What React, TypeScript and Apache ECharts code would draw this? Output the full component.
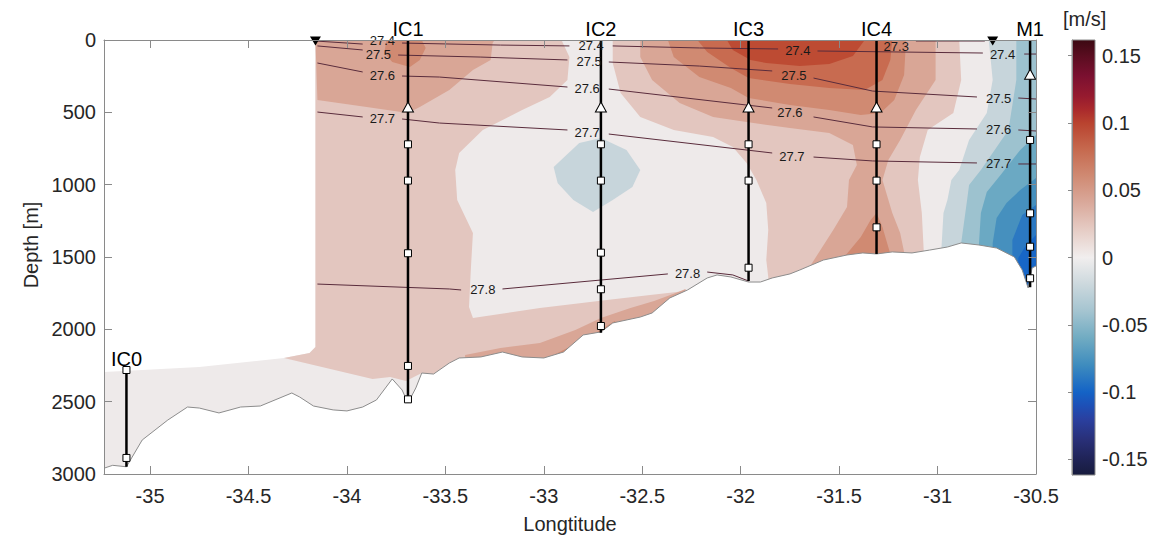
import React, { useEffect, useRef } from "react";
import * as echarts from "echarts";

// ---------- axes ----------
const LON_MIN = -35.234;
const LON_MAX = -30.5;
const DEPTH_MIN = 0;
const DEPTH_MAX = 3000;
const lonTicks = [-35, -34.5, -34, -33.5, -33, -32.5, -32, -31.5, -31, -30.5];
const CB_MIN = -0.1617;
const CB_MAX = 0.1617;
const cbTicks = [-0.15, -0.1, -0.05, 0, 0.05, 0.1, 0.15];

// colour bar (value -> colour)
const cbValues = [0.1617, 0.15, 0.135, 0.12, 0.11, 0.1, 0.08, 0.06, 0.04, 0.02, 0, -0.02, -0.04, -0.06, -0.08, -0.1, -0.11, -0.12, -0.135, -0.15, -0.1617];
const cbColors = ["#3c0912", "#5a0d20", "#7b1030", "#961a2f", "#aa2a2c", "#b9432f", "#c66a4f", "#d08b74", "#daaa9c", "#e6cdc6", "#f1eeee", "#ccd8dd", "#a4c4d0", "#70abc2", "#3e8cbe", "#1463c6", "#1d50b7", "#2a40a0", "#293079", "#1f2356", "#171b3d"];

// filled contour band colours
const bandColor = {
  W: "#eeeaea",
  P1: "#e3c6bf",
  P2: "#d9a696",
  P3: "#d08a72",
  P4: "#c86b50",
  P5: "#bd4b33",
  N1: "#c7d5db",
  N2: "#9dc2cf",
  N3: "#6ba9c3",
  N4: "#4690be",
  N5: "#2b78c2",
  N6: "#1766c7",
};

// ---------- filled contour regions [lon, depth] ----------
const wBase = [[-34.16, 0], [-30.5, 0], [-30.5, 3000], [-35.234, 3000], [-35.234, 2295], [-34.75, 2260], [-34.32, 2198], [-34.19, 2163], [-34.16, 2122]];
const p1West = [[-34.16, 0], [-32.91, 0], [-32.87, 118], [-32.88, 276], [-32.97, 394], [-33.11, 484], [-33.31, 622], [-33.43, 781], [-33.45, 899], [-33.44, 1106], [-33.36, 1334], [-33.37, 1569], [-33.38, 1846], [-33.36, 1922], [-33.02, 1852], [-32.68, 1797], [-32.46, 1763], [-32.28, 1735], [-32.26, 2488], [-33.58, 2488], [-33.62, 2302], [-33.70, 2357], [-33.78, 2329], [-33.87, 2343], [-34.32, 2198], [-34.19, 2163], [-34.16, 2122]];
const p1East = [[-32.65, 0], [-32.65, 159], [-32.61, 366], [-32.51, 532], [-32.34, 622], [-32.14, 670], [-32.04, 740], [-31.97, 850], [-31.92, 968], [-31.87, 1127], [-31.86, 1313], [-31.87, 1521], [-31.86, 1638], [-31.85, 2004], [-31.06, 2004], [-31.07, 1465], [-31.08, 1196], [-31.10, 968], [-31.09, 809], [-31.05, 622], [-30.92, 505], [-30.88, 276], [-30.89, 0]];
const p2NorthWest = [[-34.16, 0], [-33.25, 0], [-33.26, 21], [-33.27, 138], [-33.36, 207], [-33.48, 346], [-33.63, 463], [-33.69, 505], [-33.90, 463], [-34.15, 415]];
const p2Bottom = [[-33.40, 2177], [-33.22, 2129], [-33.02, 2094], [-32.84, 2004], [-32.71, 1922], [-32.56, 1852], [-32.44, 1804], [-32.33, 1749], [-32.28, 1721], [-32.28, 2488], [-33.40, 2488]];
const p2East = [[-32.51, 0], [-32.51, 118], [-32.45, 276], [-32.31, 435], [-32.14, 532], [-31.97, 567], [-31.75, 608], [-31.55, 643], [-31.43, 726], [-31.41, 864], [-31.45, 968], [-31.46, 1154], [-31.53, 1313], [-31.66, 1590], [-31.67, 2004], [-31.14, 2004], [-31.17, 1465], [-31.19, 1334], [-31.23, 1196], [-31.28, 968], [-31.25, 829], [-31.19, 691], [-31.11, 484], [-31.01, 276], [-31.01, 0]];
const p3Ic1 = [[-33.80, 0], [-33.81, 90], [-33.77, 152], [-33.68, 187], [-33.63, 138], [-33.60, 55], [-33.62, 0]];
const p3Ic2 = [[-32.97, 2191], [-32.84, 2101], [-32.72, 2011], [-32.64, 1942], [-32.61, 2004], [-32.72, 2108], [-32.87, 2212]];
const p3East = [[-32.37, 0], [-32.34, 118], [-32.21, 256], [-32.05, 332], [-31.96, 401], [-31.75, 449], [-31.55, 484], [-31.39, 518], [-31.29, 505], [-31.22, 415], [-31.17, 242], [-31.16, 0]];
const p3Ic4 = [[-31.47, 1493], [-31.39, 1362], [-31.34, 1244], [-31.31, 1196], [-31.28, 1293], [-31.24, 1479], [-31.24, 1797], [-31.47, 1797]];
const p4East = [[-32.22, 0], [-32.17, 83], [-32.05, 194], [-31.96, 263], [-31.75, 304], [-31.55, 332], [-31.37, 346], [-31.28, 276], [-31.24, 138], [-31.23, 0]];
const p5East = [[-32.07, 0], [-32.04, 69], [-31.95, 138], [-31.87, 159], [-31.70, 180], [-31.55, 166], [-31.43, 111], [-31.37, 0]];
const n1Ic2 = [[-32.95, 878], [-32.82, 712], [-32.71, 677], [-32.58, 760], [-32.51, 899], [-32.55, 1016], [-32.65, 1106], [-32.75, 1189], [-32.85, 1106], [-32.93, 988]];
const n1East = [[-30.74, 0], [-30.72, 276], [-30.75, 505], [-30.84, 691], [-30.89, 899], [-30.93, 968], [-30.95, 1106], [-30.97, 1196], [-30.98, 1431], [-30.98, 1797], [-30.5, 1797], [-30.5, 0]];
const n2East = [[-30.60, 0], [-30.60, 276], [-30.64, 622], [-30.71, 760], [-30.78, 899], [-30.84, 1002], [-30.85, 1106], [-30.88, 1403], [-30.88, 1797], [-30.5, 1797], [-30.5, 0]];
const n3East = [[-30.5, 657], [-30.58, 760], [-30.68, 933], [-30.75, 1050], [-30.78, 1196], [-30.79, 1417], [-30.79, 1797], [-30.5, 1797]];
const n4East = [[-30.5, 954], [-30.58, 1037], [-30.65, 1127], [-30.70, 1230], [-30.72, 1403], [-30.72, 1797], [-30.5, 1797]];
const n5East = [[-30.5, 1140], [-30.57, 1210], [-30.62, 1382], [-30.62, 1521], [-30.62, 1797], [-30.5, 1797]];
const n6East = [[-30.5, 1348], [-30.55, 1417], [-30.59, 1507], [-30.59, 1797], [-30.5, 1797]];

// ---------- bathymetry [lon, depth] ----------
const bathymetry = [[-35.234, 2960], [-35.19, 2940], [-35.12, 2950], [-35.04, 2765], [-34.91, 2627], [-34.81, 2537], [-34.75, 2544], [-34.65, 2578], [-34.54, 2537], [-34.44, 2530], [-34.28, 2440], [-34.24, 2468], [-34.17, 2530], [-34.07, 2557], [-34.0, 2564], [-33.92, 2537], [-33.85, 2488], [-33.77, 2343], [-33.72, 2419], [-33.69, 2509], [-33.65, 2405], [-33.62, 2302], [-33.56, 2309], [-33.48, 2233], [-33.43, 2198], [-33.32, 2191], [-33.21, 2157], [-33.11, 2191], [-33.0, 2198], [-32.9, 2157], [-32.8, 2039], [-32.71, 2018], [-32.65, 1956], [-32.51, 1915], [-32.45, 1887], [-32.36, 1783], [-32.27, 1728], [-32.17, 1645], [-32.12, 1624], [-32.05, 1638], [-31.96, 1673], [-31.9, 1673], [-31.84, 1645], [-31.75, 1617], [-31.7, 1590], [-31.58, 1521], [-31.46, 1486], [-31.38, 1472], [-31.31, 1479], [-31.23, 1465], [-31.13, 1472], [-31.04, 1452], [-30.95, 1431], [-30.88, 1403], [-30.79, 1417], [-30.7, 1438], [-30.61, 1500], [-30.57, 1590], [-30.54, 1714], [-30.52, 1576], [-30.5, 1562]];

// ---------- potential density contours ----------
const sigmaSegments = [
  [[-31.11, 7], [-30.76, 7]],
  [[-34.16, 7], [-33.92, 28]],
  [[-33.72, 21], [-33.22, 35], [-32.87, 41]],
  [[-32.65, 41], [-32.21, 55], [-31.81, 62]],
  [[-31.61, 76], [-31.19, 83], [-30.77, 90]],
  [[-30.56, 97], [-30.5, 97]],
  [[-34.15, 41], [-33.92, 69]],
  [[-33.74, 104], [-33.32, 118], [-32.88, 138]],
  [[-32.67, 152], [-32.21, 180], [-31.84, 214]],
  [[-31.63, 263], [-31.33, 353], [-30.8, 394]],
  [[-30.59, 401], [-30.5, 408]],
  [[-34.15, 159], [-33.92, 221]],
  [[-33.72, 249], [-33.53, 256], [-32.88, 325]],
  [[-32.67, 339], [-31.84, 470]],
  [[-31.63, 532], [-31.33, 601], [-30.8, 615]],
  [[-30.59, 622], [-30.5, 629]],
  [[-34.15, 498], [-33.92, 532]],
  [[-33.72, 546], [-33.53, 574], [-32.88, 622]],
  [[-32.67, 650], [-31.84, 781]],
  [[-31.63, 809], [-31.33, 836], [-30.8, 850]],
  [[-30.59, 857], [-30.5, 857]],
  [[-34.15, 1687], [-33.48, 1721], [-33.42, 1728]],
  [[-33.21, 1721], [-32.37, 1617]],
  [[-32.17, 1604], [-32.04, 1624], [-31.96, 1666]],
];
const sigmaLabels = [
  [-31.21, 48, "27.3"],
  [-33.82, 3, "27.4"], [-32.76, 41, "27.4"], [-31.71, 76, "27.4"], [-30.67, 97, "27.4"],
  [-33.84, 100, "27.5"], [-32.77, 152, "27.5"], [-31.73, 242, "27.5"], [-30.69, 401, "27.5"],
  [-33.82, 242, "27.6"], [-32.78, 332, "27.6"], [-31.75, 498, "27.6"], [-30.69, 622, "27.6"],
  [-33.82, 546, "27.7"], [-32.78, 636, "27.7"], [-31.74, 802, "27.7"], [-30.69, 857, "27.7"],
  [-33.31, 1728, "27.8"], [-32.27, 1611, "27.8"],
];

// ---------- moorings ----------
const mooringNames = ["IC0", "IC1", "IC2", "IC3", "IC4", "M1"];
const mooringLon = [-35.12, -33.69, -32.71, -31.96, -31.31, -30.53];
const mooringTop = [2281, 0, 0, 0, 0, 0];
const mooringBottom = [2950, 2488, 2023, 1666, 1479, 1709];
const squareInstruments = [
  [-35.12, 2281], [-35.12, 2889],
  [-33.69, 721], [-33.69, 972], [-33.69, 1474], [-33.69, 2253], [-33.69, 2484],
  [-32.71, 721], [-32.71, 972], [-32.71, 1470], [-32.71, 1723], [-32.71, 1977],
  [-31.96, 721], [-31.96, 972], [-31.96, 1574],
  [-31.31, 721], [-31.31, 972], [-31.31, 1295],
  [-30.53, 691], [-30.53, 1198], [-30.53, 1429], [-30.53, 1647],
];
const triangleInstruments = [[-33.69, 463], [-32.71, 463], [-31.96, 463], [-31.31, 463], [-30.53, 237]];
const surfaceStations = [[-34.16, 0], [-30.72, 0]];

// ---------- styling ----------
const FONT = "Liberation Sans, Arial, Helvetica, sans-serif";
const AXIS_GREY = "#8a8a8a";
const TEXT = "#262626";

function buildOption() {
  const fills = [
    { pts: wBase, color: bandColor.W },
    { pts: p1West, color: bandColor.P1 },
    { pts: p1East, color: bandColor.P1 },
    { pts: p2NorthWest, color: bandColor.P2 },
    { pts: p2Bottom, color: bandColor.P2 },
    { pts: p2East, color: bandColor.P2 },
    { pts: p3Ic1, color: bandColor.P3 },
    { pts: p3Ic2, color: bandColor.P3 },
    { pts: p3East, color: bandColor.P3 },
    { pts: p3Ic4, color: bandColor.P3 },
    { pts: p4East, color: bandColor.P4 },
    { pts: p5East, color: bandColor.P5 },
    { pts: n1Ic2, color: bandColor.N1 },
    { pts: n1East, color: bandColor.N1 },
    { pts: n2East, color: bandColor.N2 },
    { pts: n3East, color: bandColor.N3 },
    { pts: n4East, color: bandColor.N4 },
    { pts: n5East, color: bandColor.N5 },
    { pts: n6East, color: bandColor.N6 },
    { pts: [...bathymetry, [LON_MAX, DEPTH_MAX], [LON_MIN, DEPTH_MAX]], color: "#ffffff" },
  ];

  const mirrorX = {
    gridIndex: 0, type: "value", min: LON_MIN, max: LON_MAX, position: "top", z: 10,
    axisLine: { show: true, lineStyle: { color: AXIS_GREY } },
    axisTick: { show: true, inside: true, length: 8, customValues: lonTicks, lineStyle: { color: AXIS_GREY } },
    axisLabel: { show: false }, splitLine: { show: false },
  };
  const mirrorY = {
    gridIndex: 0, type: "value", inverse: true, min: DEPTH_MIN, max: DEPTH_MAX, interval: 500, position: "right", z: 10,
    axisLine: { show: true, lineStyle: { color: AXIS_GREY } },
    axisTick: { show: true, inside: true, length: 8, lineStyle: { color: AXIS_GREY } },
    axisLabel: { show: false }, splitLine: { show: false },
  };

  return {
    animation: false,
    backgroundColor: "#ffffff",
    textStyle: { fontFamily: FONT },
    grid: [
      { left: 104, top: 40, width: 932, height: 434 },
      { left: 1072, top: 40, width: 23, height: 435 },
    ],
    xAxis: [
      {
        gridIndex: 0, type: "value", min: LON_MIN, max: LON_MAX, position: "bottom", z: 10,
        axisLine: { show: true, onZero: false, lineStyle: { color: AXIS_GREY } },
        axisTick: { show: true, inside: true, length: 8, customValues: lonTicks, lineStyle: { color: AXIS_GREY } },
        axisLabel: { customValues: lonTicks, color: TEXT, fontSize: 20, fontFamily: FONT, margin: 12, formatter: (v: number) => String(v) },
        splitLine: { show: false },
        name: "Longtitude", nameLocation: "middle", nameGap: 40,
        nameTextStyle: { color: TEXT, fontSize: 20, fontFamily: FONT },
      },
      mirrorX,
      { gridIndex: 1, type: "value", min: 0, max: 1, show: false },
    ],
    yAxis: [
      {
        gridIndex: 0, type: "value", inverse: true, min: DEPTH_MIN, max: DEPTH_MAX, interval: 500, position: "left", z: 10,
        axisLine: { show: true, onZero: false, lineStyle: { color: AXIS_GREY } },
        axisTick: { show: true, inside: true, length: 8, lineStyle: { color: AXIS_GREY } },
        axisLabel: { color: TEXT, fontSize: 20, fontFamily: FONT, margin: 8, formatter: (v: number) => String(v) },
        splitLine: { show: false },
        name: "Depth [m]", nameLocation: "middle", nameGap: 51, nameRotate: 90,
        nameTextStyle: { color: TEXT, fontSize: 20, fontFamily: FONT, padding: [0, 0, 0, 24] },
      },
      mirrorY,
      {
        gridIndex: 1, type: "value", min: CB_MIN, max: CB_MAX, position: "right", z: 10,
        axisLine: { show: true, lineStyle: { color: AXIS_GREY } },
        axisTick: { show: true, inside: true, length: 4, customValues: cbTicks, lineStyle: { color: AXIS_GREY } },
        axisLabel: { customValues: cbTicks, color: TEXT, fontSize: 20, fontFamily: FONT, margin: 7, formatter: (v: number) => String(Number(v.toFixed(2))) },
        splitLine: { show: false },
      },
    ],
    graphic: [
      { type: "text", left: 1063, top: 9, style: { text: "[m/s]", fontSize: 20, fontFamily: FONT, fill: TEXT } },
    ],
    series: [
      {
        type: "custom", xAxisIndex: 0, yAxisIndex: 0, clip: true, silent: true, z: 2,
        data: fills.map((f, i) => [f.pts[0][0], f.pts[0][1], i]),
        encode: { x: 0, y: 1 },
        renderItem: (params: any, api: any) => {
          const f = fills[params.dataIndex];
          return { type: "polygon", shape: { points: f.pts.map((p) => api.coord(p)) }, style: { fill: f.color, stroke: null } };
        },
      },
      {
        type: "line", xAxisIndex: 0, yAxisIndex: 0, data: bathymetry, symbol: "none", silent: true, z: 3,
        lineStyle: { color: "#8c8c8c", width: 1 },
      },
      {
        type: "custom", xAxisIndex: 0, yAxisIndex: 0, clip: true, silent: true, z: 4,
        data: sigmaSegments.map((s, i) => [s[0][0], s[0][1], i]),
        encode: { x: 0, y: 1 },
        renderItem: (params: any, api: any) => {
          const s = sigmaSegments[params.dataIndex];
          return { type: "polyline", shape: { points: s.map((p) => api.coord(p)) }, style: { stroke: "#5a2c3c", lineWidth: 1, fill: null } };
        },
      },
      {
        type: "custom", xAxisIndex: 0, yAxisIndex: 0, clip: false, silent: true, z: 5,
        data: mooringNames.map((n, i) => [mooringLon[i], mooringTop[i], mooringBottom[i]]),
        encode: { x: 0, y: 1 },
        renderItem: (params: any, api: any) => {
          const i = params.dataIndex;
          const a = api.coord([mooringLon[i], mooringTop[i]]);
          const b = api.coord([mooringLon[i], mooringBottom[i]]);
          return {
            type: "group",
            children: [
              { type: "line", shape: { x1: a[0], y1: a[1], x2: b[0], y2: b[1] }, style: { stroke: "#000", lineWidth: 2.5 } },
              { type: "text", x: a[0], y: a[1] - 1, style: { text: mooringNames[i], fontSize: 20, fontFamily: FONT, fill: "#000", align: "center", verticalAlign: "bottom" } },
            ],
          };
        },
      },
      {
        type: "custom", xAxisIndex: 0, yAxisIndex: 0, clip: false, silent: true, z: 6,
        data: sigmaLabels.map((l) => [l[0], l[1]]),
        encode: { x: 0, y: 1 },
        renderItem: (params: any, api: any) => {
          const l = sigmaLabels[params.dataIndex];
          const c = api.coord([l[0], l[1]]);
          return { type: "text", x: c[0], y: c[1], style: { text: String(l[2]), fontSize: 13, fontFamily: FONT, fill: "#1a1a1a", align: "center", verticalAlign: "middle" } };
        },
      },
      {
        type: "scatter", xAxisIndex: 0, yAxisIndex: 0, data: squareInstruments, symbol: "rect", symbolSize: 7, clip: false, silent: true, z: 7,
        itemStyle: { color: "#ffffff", borderColor: "#000", borderWidth: 1, opacity: 1 },
      },
      {
        type: "scatter", xAxisIndex: 0, yAxisIndex: 0, data: triangleInstruments, symbol: "triangle", symbolSize: [11, 10], clip: false, silent: true, z: 7,
        itemStyle: { color: "#ffffff", borderColor: "#000", borderWidth: 1, opacity: 1 },
      },
      {
        type: "scatter", xAxisIndex: 0, yAxisIndex: 0, data: surfaceStations, symbol: "triangle", symbolRotate: 180, symbolSize: [11, 9], symbolOffset: [0, 1], clip: false, silent: true, z: 7,
        itemStyle: { color: "#000000", opacity: 1 },
      },
      {
        type: "custom", xAxisIndex: 2, yAxisIndex: 2, clip: false, silent: true, z: 2,
        data: [[0, CB_MAX]],
        encode: { x: 0, y: 1 },
        renderItem: (params: any, api: any) => {
          const tl = api.coord([0, CB_MAX]);
          const br = api.coord([1, CB_MIN]);
          const stops = cbValues.map((v, i) => ({ offset: (CB_MAX - v) / (CB_MAX - CB_MIN), color: cbColors[i] }));
          return {
            type: "rect",
            shape: { x: tl[0], y: tl[1], width: br[0] - tl[0], height: br[1] - tl[1] },
            style: { fill: new echarts.graphic.LinearGradient(0, 0, 0, 1, stops), stroke: AXIS_GREY, lineWidth: 1 },
          };
        },
      },
    ],
  };
}

export default function App() {
  const ref = useRef<HTMLDivElement>(null);
  useEffect(() => {
    if (!ref.current) return;
    const chart = echarts.init(ref.current, undefined, { renderer: "svg" });
    chart.setOption(buildOption() as any);
    return () => chart.dispose();
  }, []);
  return (
    <div
      ref={ref}
      style={{ position: "fixed", left: 0, top: 0, width: 1152, height: 542, background: "#ffffff" }}
    />
  );
}
